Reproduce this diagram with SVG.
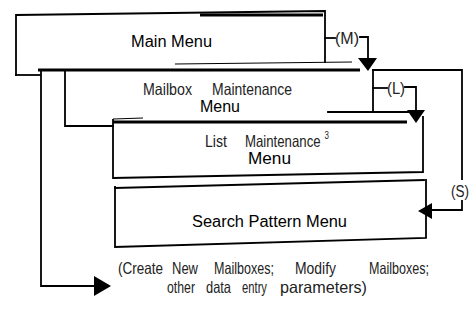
<svg xmlns="http://www.w3.org/2000/svg" width="471" height="321" viewBox="0 0 471 321">
<style>
.ln{fill:none;stroke:#000;stroke-width:1.8;stroke-linejoin:miter;stroke-linecap:square}
.thk{fill:none;stroke:#000;stroke-width:3}
.thn{fill:none;stroke:#000;stroke-width:1.2}
.ah{fill:#000;stroke:none}
.t{font-family:"Liberation Sans",Arial,sans-serif;fill:#000}
.c{font-family:"Liberation Sans",Arial,sans-serif;fill:#222;font-size:16.5px}
</style>
<rect width="471" height="321" fill="#fff"/>
<g id="main-menu">
<polyline class="ln" points="16,75 16,15 325,11 325,62"/>
<line class="thk" x1="200" y1="15" x2="323" y2="15"/>
<line class="ln" x1="16" y1="75" x2="40" y2="75"/>
<line class="thn" x1="175" y1="64" x2="352" y2="62"/>
<text class="t" x="131" y="47" font-size="16" textLength="81" lengthAdjust="spacingAndGlyphs">Main Menu</text>
</g>
<g id="mailbox-menu">
<line class="thk" x1="38" y1="70" x2="360" y2="70"/>
<polyline class="ln" points="65,71 65,126 113,126"/>
<line class="ln" x1="328" y1="112" x2="410" y2="112"/>
<text class="c" x="143" y="95" textLength="49" lengthAdjust="spacingAndGlyphs">Mailbox</text>
<text class="c" x="212" y="95" textLength="80" lengthAdjust="spacingAndGlyphs">Maintenance</text>
<text class="t" x="200" y="112" font-size="16" textLength="40" lengthAdjust="spacingAndGlyphs">Menu</text>
</g>
<g id="list-menu">
<line class="thk" x1="113" y1="122" x2="407" y2="122"/>
<line class="thn" x1="113" y1="119" x2="143" y2="118"/>
<polyline class="ln" points="113,120 113,178 423,172 423,117"/>
<text class="c" x="205" y="147" textLength="22" lengthAdjust="spacingAndGlyphs">List</text>
<text class="c" transform="translate(245,147) scale(0.8,1)">Maintenance<tspan font-size="10" dx="5" dy="-8">3</tspan></text>
<text class="t" x="248" y="164" font-size="16" textLength="43" lengthAdjust="spacingAndGlyphs">Menu</text>
</g>
<g id="search-menu">
<polyline class="ln" points="115,188 424,180"/>
<polyline class="ln" points="115,187 115,247 426,238 426,180"/>
<text class="t" x="192" y="227" font-size="16" textLength="155" lengthAdjust="spacingAndGlyphs">Search Pattern Menu</text>
</g>
<g id="connectors">
<polyline class="ln" points="325,38 335,38"/>
<polyline class="ln" points="360,37 368,37 368,59"/>
<polygon class="ah" points="358,58 377,58 368,71"/>
<text class="c" x="335" y="44" textLength="24" lengthAdjust="spacingAndGlyphs">(M)</text>
<polyline class="ln" points="373,70 373,112"/>
<polyline class="ln" points="373,88 387,88"/>
<polyline class="ln" points="405,87 416,87 416,111"/>
<polygon class="ah" points="407,110 425,110 416,123"/>
<text class="c" x="387" y="94" textLength="18" lengthAdjust="spacingAndGlyphs">(L)</text>
<polyline class="ln" points="373,70 462,70 462,210 430,210"/>
<polygon class="ah" points="432,203 432,219 418,211"/>
<rect x="450" y="180" width="21" height="20" fill="#fff"/>
<text class="c" transform="translate(451,197) scale(0.82,1)">(S)</text>
<polyline class="ln" points="41,70 41,286 96,286"/>
<polygon class="ah" points="94,276 94,296 111,286"/>
</g>
<g id="note">
<text class="c" x="118" y="274" textLength="45" lengthAdjust="spacingAndGlyphs">(Create</text>
<text class="c" x="172" y="274" textLength="26" lengthAdjust="spacingAndGlyphs">New</text>
<text class="c" x="214" y="274" textLength="60" lengthAdjust="spacingAndGlyphs">Mailboxes;</text>
<text class="c" x="295" y="274" textLength="41" lengthAdjust="spacingAndGlyphs">Modify</text>
<text class="c" x="369" y="274" textLength="60" lengthAdjust="spacingAndGlyphs">Mailboxes;</text>
<text class="c" x="167" y="293" textLength="28" lengthAdjust="spacingAndGlyphs">other</text>
<text class="c" x="206" y="293" textLength="25" lengthAdjust="spacingAndGlyphs">data</text>
<text class="c" x="242" y="293" textLength="25" lengthAdjust="spacingAndGlyphs">entry</text>
<text class="c" x="280" y="293" textLength="87" lengthAdjust="spacingAndGlyphs">parameters)</text>
</g>
</svg>
